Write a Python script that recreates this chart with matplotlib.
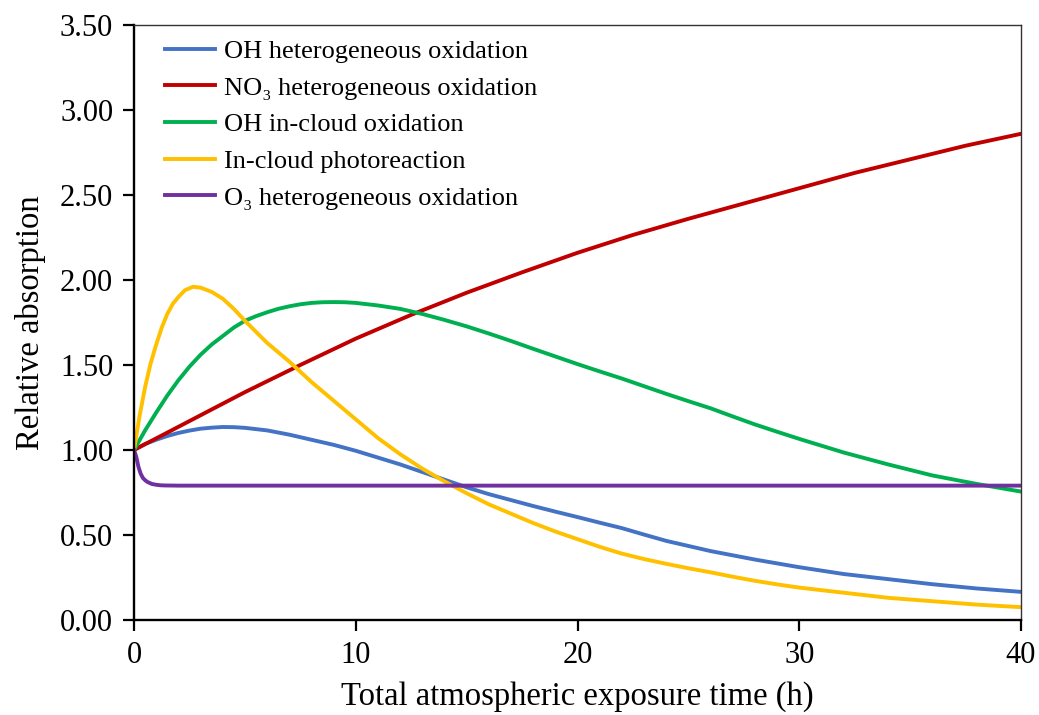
import matplotlib
matplotlib.use("Agg")
import matplotlib.pyplot as plt
from matplotlib.ticker import FormatStrFormatter

plt.rcParams['font.family'] = ['Liberation Serif', 'DejaVu Serif']

# values (time in h, relative absorption)
t_oh_het = [0, 0.5, 1, 1.5, 2, 2.5, 3, 3.5, 4, 4.5, 5, 6, 7, 8, 9, 10, 11, 12, 13, 14,
            15, 16, 17, 18, 19, 20, 21, 22, 23, 24, 25, 26, 28, 30, 32, 34, 36, 38, 40]
oh_het = [1.0, 1.035, 1.06, 1.082, 1.10, 1.114, 1.125, 1.131, 1.135, 1.134, 1.13,
          1.115, 1.09, 1.06, 1.03, 0.995, 0.955, 0.915, 0.87, 0.825, 0.78, 0.74,
          0.705, 0.67, 0.637, 0.605, 0.572, 0.54, 0.502, 0.465, 0.435, 0.405,
          0.355, 0.31, 0.27, 0.24, 0.21, 0.185, 0.165]

t_no3 = [0, 2.5, 5, 7.5, 10, 12.5, 15, 17.5, 20, 22.5, 25, 27.5, 30, 32.5, 35, 37.5, 40]
no3_het = [1.0, 1.17, 1.34, 1.50, 1.655, 1.795, 1.925, 2.045, 2.16, 2.265, 2.36,
           2.45, 2.54, 2.63, 2.71, 2.79, 2.86]

t_oh_cloud = [0, 0.5, 1, 1.5, 2, 2.5, 3, 3.5, 4, 4.5, 5, 5.5, 6, 6.5, 7, 7.5, 8, 8.5, 9,
              9.5, 10, 11, 12, 13, 14, 15, 16, 17, 18, 19, 20, 21, 22, 23, 24, 25, 26,
              27, 28, 29, 30, 32, 34, 36, 38, 40]
oh_cloud = [1.0, 1.115, 1.22, 1.32, 1.41, 1.49, 1.56, 1.62, 1.67, 1.72, 1.76, 1.787,
            1.81, 1.83, 1.845, 1.857, 1.865, 1.869, 1.87, 1.869, 1.865, 1.85, 1.83,
            1.80, 1.765, 1.727, 1.685, 1.641, 1.595, 1.55, 1.505, 1.462, 1.42, 1.375,
            1.33, 1.287, 1.245, 1.197, 1.15, 1.107, 1.065, 0.985, 0.915, 0.85, 0.80,
            0.755]

t_photo = [0, 0.25, 0.5, 0.75, 1, 1.25, 1.5, 1.75, 2, 2.3, 2.66, 3, 3.5, 4, 4.5, 5,
           5.5, 6, 6.5, 7, 7.5, 8, 8.5, 9, 9.5, 10, 11, 12, 13, 14, 15, 16, 17, 18, 19,
           20, 21, 22, 23, 24, 25, 26, 27, 28, 29, 30, 32, 34, 36, 38, 40]
photo = [1.0, 1.2, 1.37, 1.51, 1.62, 1.72, 1.80, 1.86, 1.90, 1.94, 1.96, 1.955, 1.93,
         1.89, 1.83, 1.76, 1.695, 1.63, 1.575, 1.52, 1.46, 1.40, 1.345, 1.29, 1.235,
         1.18, 1.07, 0.975, 0.89, 0.815, 0.745, 0.68, 0.625, 0.57, 0.52, 0.475,
         0.43, 0.39, 0.358, 0.33, 0.304, 0.28, 0.254, 0.23, 0.209, 0.19, 0.16, 0.13,
         0.11, 0.09, 0.075]

t_o3 = [0, 0.1, 0.2, 0.3, 0.4, 0.5, 0.6, 0.8, 1.0, 1.2, 1.4, 2, 40]
o3_het = [1.0, 0.96, 0.90, 0.86, 0.835, 0.822, 0.812, 0.80, 0.795, 0.792, 0.791,
          0.79, 0.79]

series = [
    (t_oh_het, oh_het, "OH heterogeneous oxidation", "#4472C4"),
    (t_no3, no3_het, "NO\u2083 heterogeneous oxidation", "#C00000"),
    (t_oh_cloud, oh_cloud, "OH in-cloud oxidation", "#00B050"),
    (t_photo, photo, "In-cloud photoreaction", "#FFC000"),
    (t_o3, o3_het, "O\u2083 heterogeneous oxidation", "#7030A0"),
]

fig = plt.figure(figsize=(10.39, 7.15), dpi=100)
ax = fig.add_axes([0.129, 0.133, 0.8537, 0.832])

for t, v, name, col in series:
    ax.plot(t, v, color=col, lw=2.8, label=name, solid_joinstyle='round')

ax.set_xlim(0, 40)
ax.set_ylim(0, 3.5)
ax.set_xticks([0, 10, 20, 30, 40])
ax.set_yticks([0, 0.5, 1.0, 1.5, 2.0, 2.5, 3.0, 3.5])
ax.yaxis.set_major_formatter(FormatStrFormatter('%.2f'))
ax.tick_params(direction='out', length=8, width=1.6, labelsize=22, pad=7)

for s in ['left', 'bottom']:
    ax.spines[s].set_linewidth(1.7)
    ax.spines[s].set_color('black')
for s in ['top', 'right']:
    ax.spines[s].set_linewidth(1.0)
    ax.spines[s].set_color('#333333')

ax.set_xlabel("Total atmospheric exposure time (h)", fontsize=23.5, labelpad=8)
ax.set_ylabel("Relative absorption", fontsize=23.5, labelpad=10)

ax.legend(loc='upper left', frameon=False, fontsize=19, handlelength=1.9,
          handletextpad=0.35, labelspacing=0.5, borderaxespad=0.15,
          bbox_to_anchor=(0.018, 1.0))

fig.savefig("out.png", dpi=100)
